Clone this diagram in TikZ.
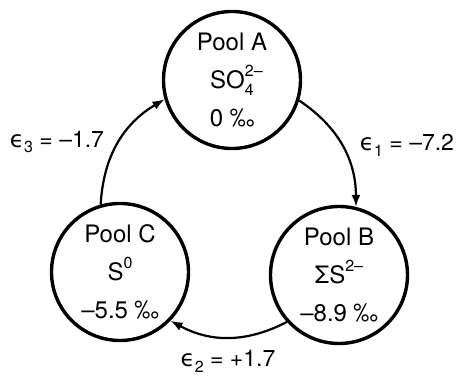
\documentclass[tikz,border=0pt]{standalone}
\usepackage{fontspec}
\setmainfont{TeX Gyre Heros}
\newfontfamily\symfont{DejaVu Sans}
\usetikzlibrary{arrows.meta}

% charge over index, stacked
\newcommand{\ionsup}[1]{\raisebox{0.5em}{\fontsize{16}{16}\selectfont #1}}
\newcommand{\ionstack}[2]{\makebox[0pt][l]{\ionsup{#1}}\raisebox{-0.3em}{\fontsize{16}{16}\selectfont #2}}
\newcommand{\eps}[1]{{\symfont ϵ}\raisebox{-0.25em}{\fontsize{16}{16}\selectfont #1}}

\tikzset{
  pool/.style={circle, draw, line width=3.4pt, minimum size=137pt, inner sep=0pt,
    align=center, font=\fontsize{24}{38}\selectfont},
  flux/.style={line width=2.2pt, -{Latex[length=12pt,width=9pt]}},
  epslabel/.style={font=\fontsize{23}{25}\selectfont}
}

\begin{document}
\begin{tikzpicture}[x=1pt,y=1pt]
\useasboundingbox (0,0) rectangle (458,377);

% the three pools
\node[pool] (poolA) at (232,297) {Pool A\\SO\ionstack{2–}{4}\\0 ‰};
\node[pool] (poolB) at (339,102) {Pool B\\ΣS\ionsup{2–}\\–8.9 ‰};
\node[pool] (poolC) at (120,105) {Pool C\\S\ionsup{0}\\–5.5 ‰};

% fluxes between pools
\draw[flux] (poolA.-17) to[bend left=28] (poolB.76);
\draw[flux] (poolB.222) to[bend left=28] (poolC.316);
\draw[flux] (poolC.106) to[bend left=28] (poolA.196);

% fractionation factors
\node[epslabel] (epsA) at (407,232) {\eps{1} = –7.2};
\node[epslabel] (epsB) at (228,16) {\eps{2} = +1.7};
\node[epslabel] (epsC) at (57,235) {\eps{3} = –1.7};

\end{tikzpicture}
\end{document}
